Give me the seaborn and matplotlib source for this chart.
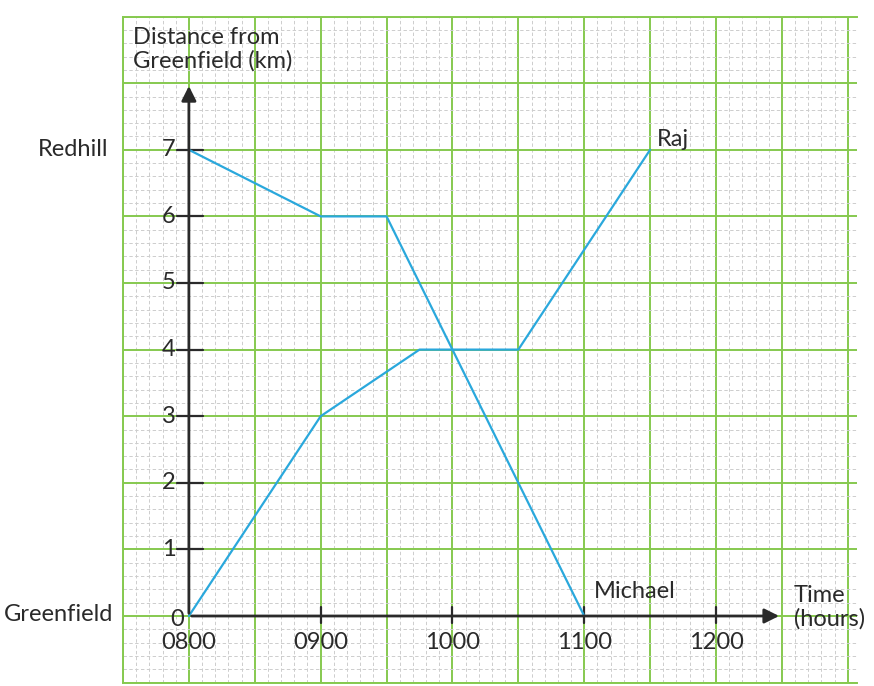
import pandas as pd
import numpy as np
import matplotlib
matplotlib.use("Agg")
import matplotlib.pyplot as plt
from matplotlib.ticker import MultipleLocator
import seaborn as sns

# journeys (time in hours, distance from Greenfield in km)
raj_time = [8, 9, 9.75, 10.5, 11.5]
raj_dist = [0, 3, 4, 4, 7]
michael_time = [8, 9, 9.5, 11]
michael_dist = [7, 6, 6, 0]

time_ticks = [8, 9, 10, 11, 12]
time_labels = ['0800', '0900', '1000', '1100', '1200']
dist_ticks = [0, 1, 2, 3, 4, 5, 6, 7]

df = pd.concat([
    pd.DataFrame({'time': raj_time, 'dist': raj_dist, 'who': 'Raj'}),
    pd.DataFrame({'time': michael_time, 'dist': michael_dist, 'who': 'Michael'}),
])

sns.set_style('white')
plt.rcParams['font.family'] = ['Lato', 'DejaVu Sans']

ink = '#2a2a2a'
blue = '#2aa8dc'
green = '#86c94f'
fs = 17

fig = plt.figure(figsize=(8.74, 6.86), dpi=100)
ax = fig.add_axes([123 / 874, 3.4 / 686, 734 / 874, 666 / 686])

# graph paper
ax.set_xlim(7.5, 13.07)
ax.set_ylim(-1, 9)
ax.xaxis.set_major_locator(MultipleLocator(0.5))
ax.yaxis.set_major_locator(MultipleLocator(1))
ax.xaxis.set_minor_locator(MultipleLocator(0.1))
ax.yaxis.set_minor_locator(MultipleLocator(0.2))
ax.grid(which='minor', color='#cdcdcd', lw=0.7, ls=(0, (3.5, 2.5)))
ax.grid(which='major', color=green, lw=1.4)
ax.tick_params(which='both', length=0, labelbottom=False, labelleft=False)
ax.set_axisbelow(True)
for side in ['left', 'top', 'bottom']:
    ax.spines[side].set_color(green)
    ax.spines[side].set_linewidth(1.4)
ax.spines['right'].set_visible(False)

# the two journeys
sns.lineplot(data=df, x='time', y='dist', hue='who', units='who', estimator=None,
             sort=False, palette=[blue, blue], lw=1.6, legend=False, ax=ax, zorder=3)
ax.set_xlabel('')
ax.set_ylabel('')

# axes with arrows
ax.annotate('', xy=(8, 8.0), xytext=(8, 0),
            arrowprops=dict(arrowstyle='-|>', color=ink, lw=2, mutation_scale=22))
ax.annotate('', xy=(12.5, 0), xytext=(8, 0),
            arrowprops=dict(arrowstyle='-|>', color=ink, lw=2, mutation_scale=22))

for d in dist_ticks[1:]:
    ax.plot([7.91, 8.11], [d, d], color=ink, lw=1.6)
    ax.text(7.9, d, str(d), ha='right', va='center', fontsize=fs, color=ink)
ax.text(7.96, -0.05, '0', ha='right', va='center', fontsize=fs, color=ink)

for t, lab in zip(time_ticks, time_labels):
    if t != 8:
        ax.plot([t, t], [-0.1, 0.14], color=ink, lw=1.6)
    ax.text(t, -0.4, lab, ha='center', va='center', fontsize=fs, color=ink)

# text labels
ax.text(7.386, 7.0, 'Redhill', ha='right', va='center', fontsize=fs, color=ink, clip_on=False)
ax.text(7.424, 0.03, 'Greenfield', ha='right', va='center', fontsize=fs, color=ink, clip_on=False)
ax.text(7.576, 8.85, 'Distance from\nGreenfield (km)', ha='left', va='top',
        fontsize=fs, color=ink, linespacing=1.15)
ax.text(12.59, 0.47, 'Time\n(hours)', ha='left', va='top', fontsize=fs, color=ink,
        linespacing=1.15)
ax.text(11.07, 0.27, 'Michael', ha='left', va='baseline', fontsize=fs, color=ink)
ax.text(11.55, 7.06, 'Raj', ha='left', va='baseline', fontsize=fs, color=ink)

fig.savefig('out.png', dpi=100)
